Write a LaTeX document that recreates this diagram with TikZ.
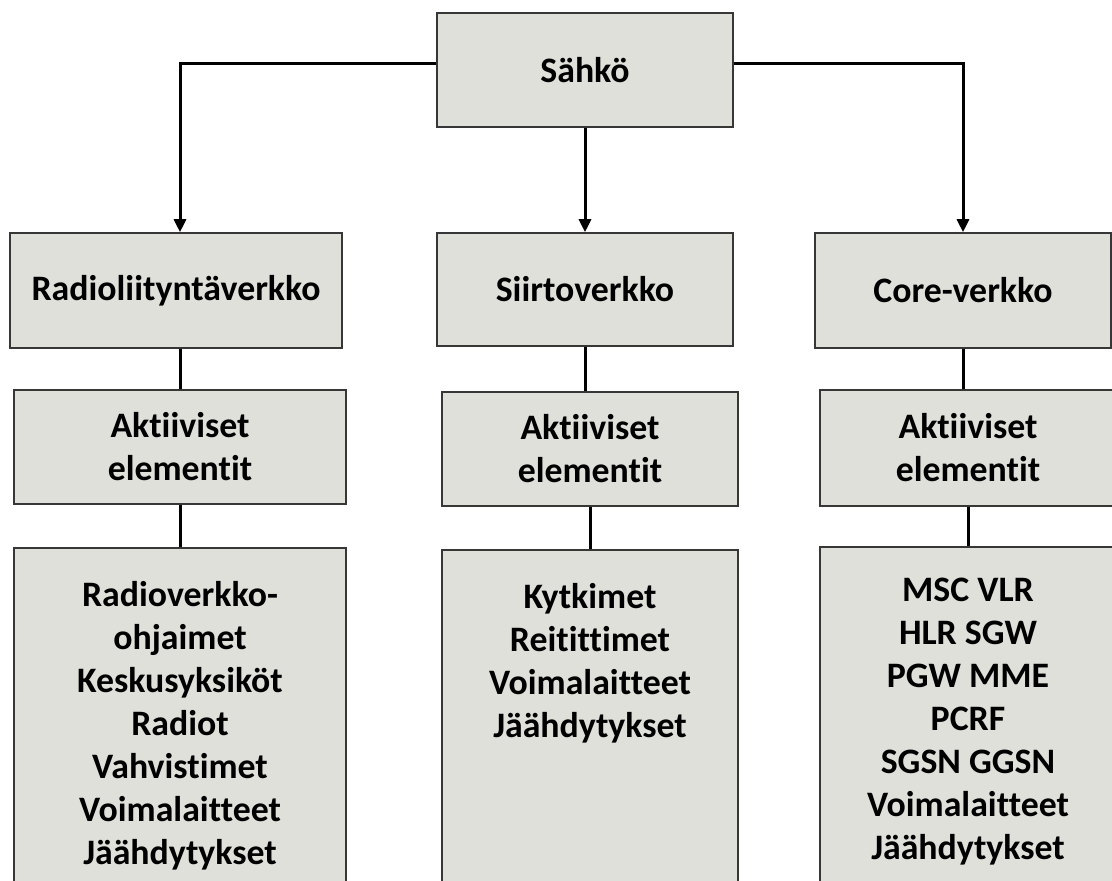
\documentclass[tikz,border=0pt]{standalone}
\usepackage{fontspec}
\setmainfont{Carlito}[Ligatures=NoCommon]
\usetikzlibrary{arrows.meta, positioning}
\definecolor{boxgray}{RGB}{224,224,219}
\definecolor{boxline}{RGB}{55,55,55}

\begin{document}
\begin{tikzpicture}[
    x=1pt, y=-1pt,
    font=\fontsize{35.8}{43}\selectfont\bfseries,
    block/.style={
        rectangle, draw=boxline, line width=1.6pt,
        fill=boxgray, align=center, inner sep=0pt
    },
    listbox/.style={block, anchor=north, minimum height=400pt},
    listtext/.style={align=center, inner sep=0pt},
    link/.style={draw=black, line width=3pt},
    arrow/.style={link, -{Triangle[length=13pt, width=12pt]}}
]
\useasboundingbox (0,0) rectangle (1112,881);

% -------------------------
% 1. Top: SAHKO
% -------------------------
\node[block, minimum width=296pt, minimum height=114pt] (Sahko) at (585,70) {Sähkö};

% -------------------------
% 2. Networks
% -------------------------
\node[block, minimum width=332pt, minimum height=115pt] (Radio) at (176,290.5) {Radioliityntäverkko};
\node[block, minimum width=296pt, minimum height=113pt] (Siirto) at (585,289.5) {Siirtoverkko};
\node[block, minimum width=296pt, minimum height=115pt] (Core) at (963,290.5) {Core-verkko};

% -------------------------
% 3. Active elements
% -------------------------
\node[block, minimum width=332pt, minimum height=114pt] (RadioAkt) at (180,447) {Aktiiviset\\elementit};
\node[block, minimum width=296pt, minimum height=114pt] (SiirtoAkt) at (590,449) {Aktiiviset\\elementit};
\node[block, minimum width=296pt, minimum height=116pt] (CoreAkt) at (968,448) {Aktiiviset\\elementit};

% -------------------------
% 4. Equipment lists
% -------------------------
\node[listbox, minimum width=332pt] (RadioList) at (180,547) {};
\node[listtext, anchor=north, below=34pt of RadioList.north] (RadioItems)
    {Radioverkko-\\ohjaimet\\Keskusyksiköt\\Radiot\\Vahvistimet\\Voimalaitteet\\Jäähdytykset};

\node[listbox, minimum width=296pt] (SiirtoList) at (590,549) {};
\node[listtext, anchor=north, below=34pt of SiirtoList.north] (SiirtoItems)
    {Kytkimet\\Reitittimet\\Voimalaitteet\\Jäähdytykset};

\node[listbox, minimum width=296pt] (CoreList) at (968,546) {};
\node[listtext, anchor=north, below=32pt of CoreList.north] (CoreItems)
    {MSC VLR\\HLR SGW\\PGW MME\\PCRF\\SGSN GGSN\\Voimalaitteet\\Jäähdytykset};

% -------------------------
% CONNECTORS
% -------------------------
\draw[arrow] ([yshift=7pt]Sahko.west) -| ([xshift=4pt]Radio.north);
\draw[arrow] (Sahko.south) -- (Siirto.north);
\draw[arrow] ([yshift=7pt]Sahko.east) -| (Core.north);

\draw[link] (Radio.south -| RadioAkt.north) -- (RadioAkt.north);
\draw[link] (Siirto.south) -- (Siirto.south |- SiirtoAkt.north);
\draw[link] (Core.south) -- (Core.south |- CoreAkt.north);

\draw[link] (RadioAkt.south) -- (RadioAkt.south |- RadioList.north);
\draw[link] (SiirtoAkt.south) -- (SiirtoList.north);
\draw[link] (CoreAkt.south) -- (CoreAkt.south |- CoreList.north);

\end{tikzpicture}
\end{document}
